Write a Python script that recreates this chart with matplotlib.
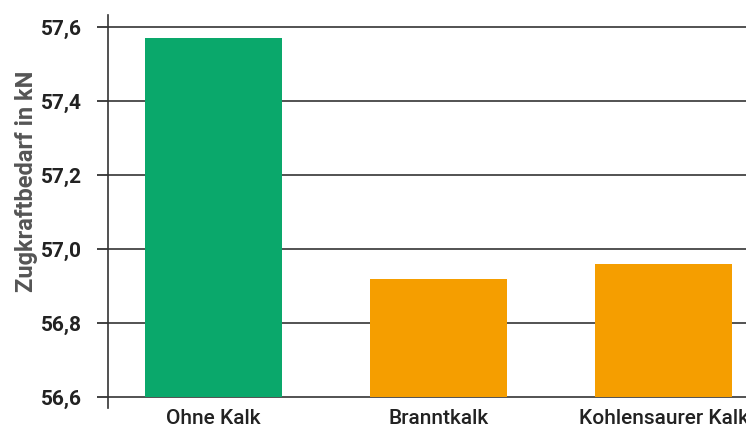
import matplotlib.pyplot as plt

categories = ['Ohne Kalk', 'Branntkalk', 'Kohlensaurer Kalk']
values = [57.57, 56.92, 56.96]
colors = ['#0aa86b', '#f59e00', '#f59e00']
yticks = [56.6, 56.8, 57.0, 57.2, 57.4, 57.6]
ytick_labels = ['56,6', '56,8', '57,0', '57,2', '57,4', '57,6']
base = 56.6

plt.rcParams['font.family'] = ['Roboto', 'DejaVu Sans']

fig = plt.figure(figsize=(7.46, 4.28), dpi=100)
W, H = 746, 428
# axes extends past the right edge, like the original crop
ax = fig.add_axes([108 / W, (H - 408) / H, 661.5 / W, (408 - 15) / H])

x = range(len(categories))
ax.bar(x, [v - base for v in values], bottom=base, width=0.61, color=colors, zorder=3)

ax.set_xlim(-0.47, 2.47)
ax.set_ylim(56.6 - 11 * 0.2 / 74.2, 57.6 + 12 * 0.2 / 74.2)
ax.set_yticks(yticks)
ax.set_yticklabels(ytick_labels, fontsize=15, fontweight='bold', color='#222222')
ax.set_xticks(list(x))
ax.set_xticklabels(categories, fontsize=15, fontweight='medium', color='#222222')
ax.tick_params(axis='x', length=0, pad=1)
ax.tick_params(axis='y', length=8, width=1.3, color='#333333', pad=11)

for t in yticks:
    ax.axhline(t, color='#444444', lw=1.3, zorder=2)

for s in ['top', 'right', 'bottom']:
    ax.spines[s].set_visible(False)
ax.spines['left'].set_color('#333333')
ax.spines['left'].set_linewidth(1.2)

fig.text(27 / W, 1 - 181 / H, 'Zugkraftbedarf in kN', rotation=90, ha='center', va='center',
         fontsize=17, fontweight='bold', color='#555555')

fig.savefig('out.png', dpi=100)
